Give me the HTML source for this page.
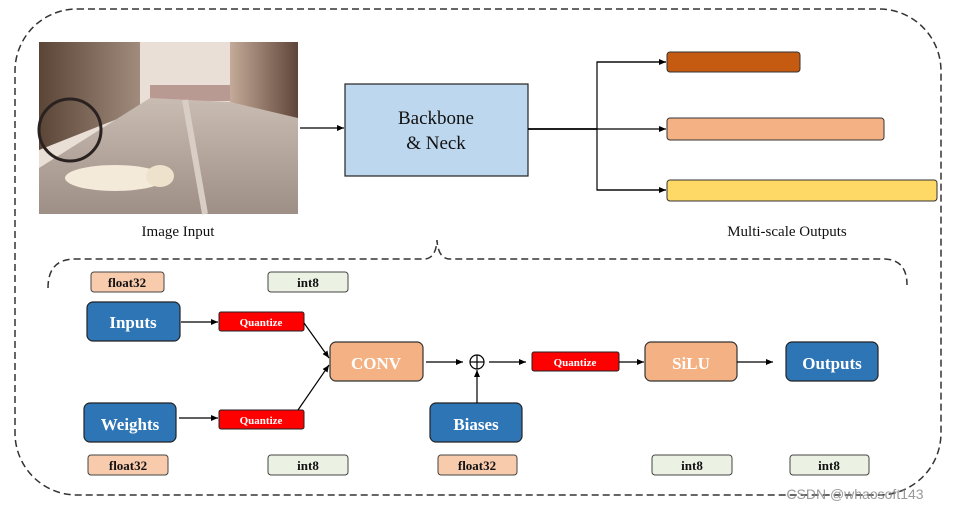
<!DOCTYPE html>
<html><head><meta charset="utf-8"><style>
html,body{margin:0;padding:0;background:#fff;}
svg{display:block;}
</style></head><body>
<svg width="953" height="509" viewBox="0 0 953 509" xmlns="http://www.w3.org/2000/svg" font-family="Liberation Serif, serif">
<defs>
<marker id="ah" markerWidth="8" markerHeight="8" refX="7" refY="4" orient="auto" markerUnits="userSpaceOnUse"><path d="M0,1 L7,4 L0,7 z" fill="#000"/></marker>
<linearGradient id="road" x1="0" y1="0" x2="0" y2="1"><stop offset="0" stop-color="#c9bcb2"/><stop offset="1" stop-color="#9e8f86"/></linearGradient>
<linearGradient id="lb" x1="0" y1="0" x2="1" y2="0"><stop offset="0" stop-color="#5a4536"/><stop offset="1" stop-color="#a08b7c"/></linearGradient>
<linearGradient id="rb" x1="0" y1="0" x2="1" y2="0"><stop offset="0" stop-color="#c4aa98"/><stop offset="1" stop-color="#5e4539"/></linearGradient>
</defs>
<rect x="15" y="9" width="926" height="486" rx="62" ry="62" fill="none" stroke="#333" stroke-width="1.5" stroke-dasharray="7,4"/>
<!-- image -->
<rect x="39" y="42" width="259" height="172" fill="#eadfd6"/>
<polygon points="39,42 140,42 140,110 39,150" fill="url(#lb)"/>
<polygon points="230,42 298,42 298,120 230,102" fill="url(#rb)"/>
<rect x="150" y="85" width="80" height="16" fill="#b89a92"/>
<polygon points="39,214 298,214 298,118 230,102 150,98 39,168" fill="url(#road)"/>
<line x1="185" y1="100" x2="205" y2="214" stroke="#d8cec6" stroke-width="6"/>
<circle cx="70" cy="130" r="31" fill="none" stroke="#2a2220" stroke-width="3"/>
<ellipse cx="115" cy="178" rx="50" ry="13" fill="#f3ead9"/>
<ellipse cx="160" cy="176" rx="14" ry="11" fill="#efe2cc"/>
<text x="178" y="236" font-size="15" text-anchor="middle" fill="#111">Image Input</text>
<line x1="300" y1="128" x2="344" y2="128" stroke="#000" stroke-width="1.3" marker-end="url(#ah)"/>
<rect x="345" y="84" width="183" height="92" fill="#bdd7ee" stroke="#222" stroke-width="1.2"/>
<text x="436" y="124" font-size="19" text-anchor="middle" fill="#111">Backbone</text>
<text x="436" y="149" font-size="19" text-anchor="middle" fill="#111">&amp; Neck</text>
<line x1="528" y1="129" x2="597" y2="129" stroke="#000" stroke-width="1.8"/>
<polyline points="666,62 597,62 597,190 666,190" fill="none" stroke="#000" stroke-width="1.2"/>
<line x1="597" y1="62" x2="666" y2="62" stroke="#000" stroke-width="1.2" marker-end="url(#ah)"/>
<line x1="597" y1="129" x2="666" y2="129" stroke="#000" stroke-width="1.2" marker-end="url(#ah)"/>
<line x1="597" y1="190" x2="666" y2="190" stroke="#000" stroke-width="1.2" marker-end="url(#ah)"/>
<rect x="667" y="52" width="133" height="20" rx="3" fill="#c55a11" stroke="#333" stroke-width="1"/>
<rect x="667" y="118" width="217" height="22" rx="3" fill="#f4b183" stroke="#333" stroke-width="1"/>
<rect x="667" y="180" width="270" height="21" rx="3" fill="#ffd966" stroke="#333" stroke-width="1"/>
<text x="787" y="236" font-size="15" text-anchor="middle" fill="#111">Multi-scale Outputs</text>
<path d="M48,288 Q48,259 75,259 L425,259 Q436,258 437,240 Q438,258 449,259 L885,259 Q907,260 907,285" fill="none" stroke="#333" stroke-width="1.5" stroke-dasharray="7,4"/>
<g font-weight="bold" font-size="13" text-anchor="middle" fill="#111">
<rect x="91" y="272" width="73" height="20" rx="3" fill="#f8cbad" stroke="#444"/><text x="127" y="287">float32</text>
<rect x="268" y="272" width="80" height="20" rx="3" fill="#ebf1e3" stroke="#444"/><text x="308" y="287">int8</text>
<rect x="88" y="455" width="80" height="20" rx="3" fill="#f8cbad" stroke="#444"/><text x="128" y="470">float32</text>
<rect x="268" y="455" width="80" height="20" rx="3" fill="#ebf1e3" stroke="#444"/><text x="308" y="470">int8</text>
<rect x="438" y="455" width="79" height="20" rx="3" fill="#f8cbad" stroke="#444"/><text x="477" y="470">float32</text>
<rect x="652" y="455" width="80" height="20" rx="3" fill="#ebf1e3" stroke="#444"/><text x="692" y="470">int8</text>
<rect x="790" y="455" width="79" height="20" rx="3" fill="#ebf1e3" stroke="#444"/><text x="829" y="470">int8</text>
</g>
<g font-weight="bold" font-size="17" text-anchor="middle" fill="#fff">
<rect x="87" y="302" width="93" height="39" rx="6" fill="#2e75b6" stroke="#222" stroke-width="1.2"/><text x="133" y="328">Inputs</text>
<rect x="84" y="403" width="92" height="39" rx="6" fill="#2e75b6" stroke="#222" stroke-width="1.2"/><text x="130" y="430">Weights</text>
<rect x="430" y="403" width="92" height="39" rx="6" fill="#2e75b6" stroke="#222" stroke-width="1.2"/><text x="476" y="430">Biases</text>
<rect x="786" y="342" width="92" height="39" rx="6" fill="#2e75b6" stroke="#222" stroke-width="1.2"/><text x="832" y="369">Outputs</text>
<rect x="330" y="342" width="93" height="39" rx="6" fill="#f4b183" stroke="#333" stroke-width="1.2"/><text x="376" y="369">CONV</text>
<rect x="645" y="342" width="92" height="39" rx="6" fill="#f4b183" stroke="#333" stroke-width="1.2"/><text x="691" y="369">SiLU</text>
</g>
<g font-weight="bold" font-size="11" text-anchor="middle" fill="#fff">
<rect x="219" y="312" width="85" height="19" rx="2" fill="#ff0000" stroke="#222"/><text x="261" y="326">Quantize</text>
<rect x="219" y="410" width="85" height="19" rx="2" fill="#ff0000" stroke="#222"/><text x="261" y="424">Quantize</text>
<rect x="532" y="352" width="87" height="19" rx="2" fill="#ff0000" stroke="#222"/><text x="575" y="366">Quantize</text>
</g>
<g stroke="#000" stroke-width="1.2" fill="none">
<line x1="181" y1="322" x2="218" y2="322" marker-end="url(#ah)"/>
<line x1="179" y1="418" x2="218" y2="418" marker-end="url(#ah)"/>
<line x1="304" y1="323" x2="329" y2="358" marker-end="url(#ah)"/>
<line x1="298" y1="410" x2="329" y2="365" marker-end="url(#ah)"/>
<line x1="426" y1="362" x2="463" y2="362" marker-end="url(#ah)"/>
<circle cx="477" cy="362" r="7"/>
<line x1="470" y1="362" x2="484" y2="362"/><line x1="477" y1="355" x2="477" y2="369"/>
<line x1="477" y1="403" x2="477" y2="370" marker-end="url(#ah)"/>
<line x1="489" y1="362" x2="526" y2="362" marker-end="url(#ah)"/>
<line x1="619" y1="362" x2="644" y2="362" marker-end="url(#ah)"/>
<line x1="737" y1="362" x2="773" y2="362" marker-end="url(#ah)"/>
</g>
<text x="855" y="499" font-family="Liberation Sans, sans-serif" font-size="14" text-anchor="middle" fill="#888" opacity="0.85">CSDN @whaosoft143</text>
</svg>
</body></html>
